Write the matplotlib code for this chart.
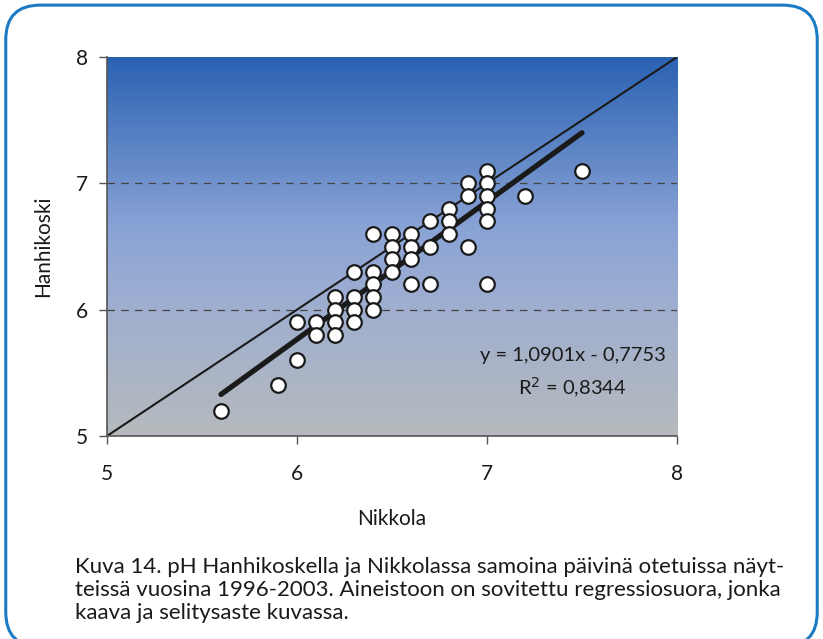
import numpy as np
import matplotlib.pyplot as plt
from matplotlib.colors import LinearSegmentedColormap
from matplotlib.patches import FancyBboxPatch

plt.rcParams['font.family'] = ['Lato', 'DejaVu Sans']

# pH-arvot: Nikkola (x) ja Hanhikoski (y)
nikkola = [5.6, 5.9, 6.0, 6.0, 6.1, 6.1,
           6.2, 6.2, 6.2, 6.2,
           6.3, 6.3, 6.3, 6.3,
           6.4, 6.4, 6.4, 6.4, 6.4,
           6.5, 6.5, 6.5, 6.5,
           6.6, 6.6, 6.6, 6.6,
           6.7, 6.7, 6.7,
           6.8, 6.8, 6.8,
           6.9, 6.9, 6.9,
           7.0, 7.0, 7.0, 7.0, 7.0, 7.0,
           7.2, 7.5]
hanhikoski = [5.2, 5.4, 5.6, 5.9, 5.9, 5.8,
              6.1, 6.0, 5.9, 5.8,
              6.3, 6.1, 6.0, 5.9,
              6.6, 6.3, 6.2, 6.1, 6.0,
              6.6, 6.5, 6.4, 6.3,
              6.6, 6.5, 6.4, 6.2,
              6.7, 6.5, 6.2,
              6.8, 6.7, 6.6,
              7.0, 6.9, 6.5,
              7.1, 7.0, 6.9, 6.8, 6.7, 6.2,
              6.9, 7.1]

# regressiosuoran kertoimet
slope = 1.0901
intercept = -0.7753
r2 = 0.8344

fig = plt.figure(figsize=(8.23, 6.39), dpi=100)

# sininen pyöristetty kehys
frame = FancyBboxPatch((0.007, -0.012), 0.986, 1.004,
                       boxstyle='round,pad=0,rounding_size=0.042',
                       transform=fig.transFigure, facecolor='none',
                       edgecolor='#1b7bc4', linewidth=2.2, clip_on=False,
                       mutation_aspect=823 / 639)
fig.patches.append(frame)

ax = fig.add_axes([0.130, 0.3177, 0.6926, 0.593])

# liukuväritausta
cmap = LinearSegmentedColormap.from_list(
    'bg', [(0.0, '#b6babd'), (0.35, '#9eaed0'), (0.55, '#8aa3d6'),
           (1.0, '#2a62b2')])
grad = np.linspace(0, 1, 256).reshape(-1, 1)
ax.imshow(grad, extent=[5, 8, 5, 8], origin='lower', aspect='auto',
          cmap=cmap, zorder=0)

for yv in [6, 7]:
    ax.axhline(yv, color='#444444', linestyle=(0, (6, 5)), linewidth=0.9,
               zorder=1)

# 1:1 -viiva
ax.plot([5, 8], [5, 8], color='#1a1a1a', linewidth=1.5, zorder=2)

# regressiosuora
xr = np.array([min(nikkola), max(nikkola)])
ax.plot(xr, slope * xr + intercept, color='#1a1a1a', linewidth=3.8,
        solid_capstyle='round', zorder=2)

ax.scatter(nikkola, hanhikoski, s=110, facecolor='white',
           edgecolor='#1a1a1a', linewidth=1.6, zorder=3)

ax.text(7.45, 5.64, f'y = {slope:.4f}x - {-intercept:.4f}'.replace('.', ','),
        ha='center', va='center', fontsize=14.5, color='#1a1a1a')
ax.text(7.45, 5.38, f'R$^2$ = {r2:.4f}'.replace('.', ','), ha='center',
        va='center', fontsize=14.5, color='#1a1a1a')

ax.set_xlim(5, 8)
ax.set_ylim(5, 8)
ax.set_xticks([5, 6, 7, 8])
ax.set_yticks([5, 6, 7, 8])
for s in ['top', 'right']:
    ax.spines[s].set_visible(False)
for s in ['left', 'bottom']:
    ax.spines[s].set_color('#555555')
    ax.spines[s].set_linewidth(1.2)
ax.tick_params(direction='out', length=6, width=1, color='#555555',
               labelsize=15, pad=14, labelcolor='#1a1a1a')
ax.tick_params(axis='y', pad=8)

ax.set_xlabel('Nikkola', fontsize=15, labelpad=18, color='#1a1a1a')
ax.set_ylabel('Hanhikoski', fontsize=15, labelpad=16, color='#1a1a1a')

caption = ('Kuva 14. pH Hanhikoskella ja Nikkolassa samoina päivinä otetuissa näyt-\n'
           'teissä vuosina 1996-2003. Aineistoon on sovitettu regressiosuora, jonka\n'
           'kaava ja selitysaste kuvassa.')
fig.text(0.091, 0.077, caption, ha='left', va='center', fontsize=16,
         color='#1a1a1a', linespacing=1.17)

fig.savefig('out.png', dpi=100)
